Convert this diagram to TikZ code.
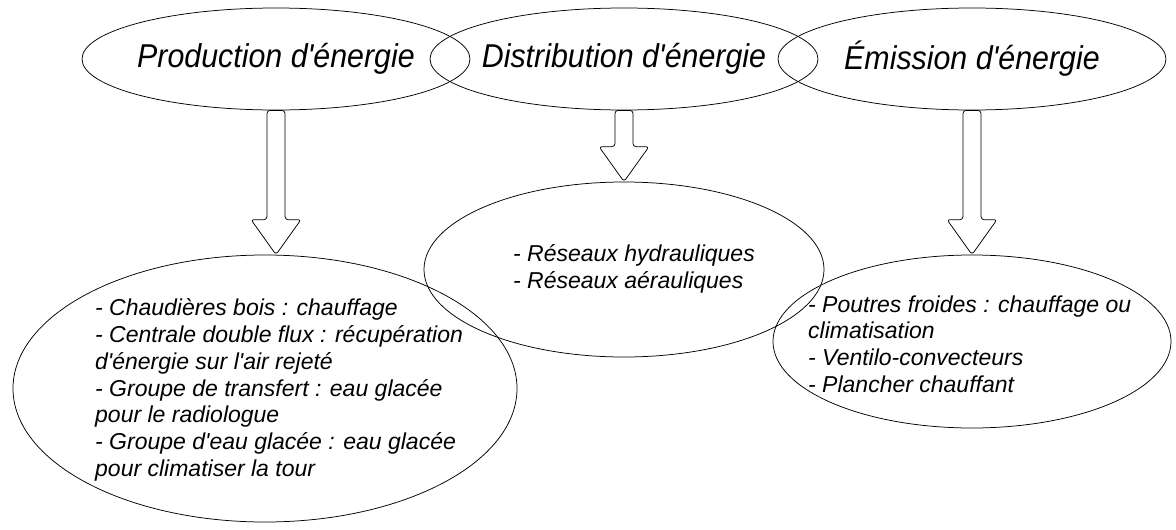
\documentclass[tikz,border=0pt]{standalone}
\usepackage{fontspec}
\setmainfont{Liberation Sans}[Ligatures=TeXOff]
\newfontfamily\etroit{Liberation Sans}[FakeStretch=0.92,Ligatures=TeXOff]
\usetikzlibrary{shapes.geometric,calc}
\tikzset{
  bulle/.style={draw,ellipse,line width=0.75pt,inner sep=0pt},
  titre/.style={bulle,inner xsep=-20pt,minimum width=388pt,minimum height=102pt,
    font=\etroit\itshape\fontsize{33}{36}\selectfont},
  liste/.style={align=left,inner sep=0pt,anchor=west,
    font=\itshape\fontsize{23}{26.7}\selectfont},
  fleche/.style={draw,line width=0.75pt,fill=white,rounded corners=3pt}
}

\begin{document}
\begin{tikzpicture}[x=1pt,y=-1pt]
  \useasboundingbox (0,0) rectangle (1176,530);
  \fill[white] (0,0) rectangle (1176,530);
  % les trois postes
  \node[titre] (A) at (276,59) {Production d'énergie};
  \node[titre] (B) at (624,59) {Distribution d'énergie};
  \node[titre] (C) at (972,59) {Émission d'énergie};
  % les listes
  \node[bulle,minimum width=504pt,minimum height=267pt] (D) at (265,388.5) {};
  \node[bulle,minimum width=400pt,minimum height=175pt] (E) at (624,269.5) {};
  \node[bulle,minimum width=398pt,minimum height=173pt] (F) at (972,341.5) {};
  \node[liste] (Dt) at (95,390) {- Chaudières bois : chauffage\\
    - Centrale double flux : récupération\\ d'énergie sur l'air rejeté\\
    - Groupe de transfert : eau glacée\\ pour le radiologue\\
    - Groupe d'eau glacée : eau glacée\\ pour climatiser la tour};
  \node[liste] (Et) at (513,269) {- Réseaux hydrauliques\\ - Réseaux aérauliques};
  \node[liste] (Ft) at (808,344) {- Poutres froides : chauffage ou\\ climatisation\\
    - Ventilo-convecteurs\\ - Plancher chauffant};
  % fleches
  \foreach \s/\t in {A/D,B/E,C/F}{
    \coordinate (T) at (\s.south |- \t.north);
    \draw[fleche] ($(\s.south)+(-9,0)$) -- ($(T)+(-9,-35)$) -- ($(T)+(-25,-35)$)
      -- (T) -- ($(T)+(25,-35)$) -- ($(T)+(9,-35)$) -- ($(\s.south)+(9,0)$) -- cycle;
  }
\end{tikzpicture}
\end{document}
